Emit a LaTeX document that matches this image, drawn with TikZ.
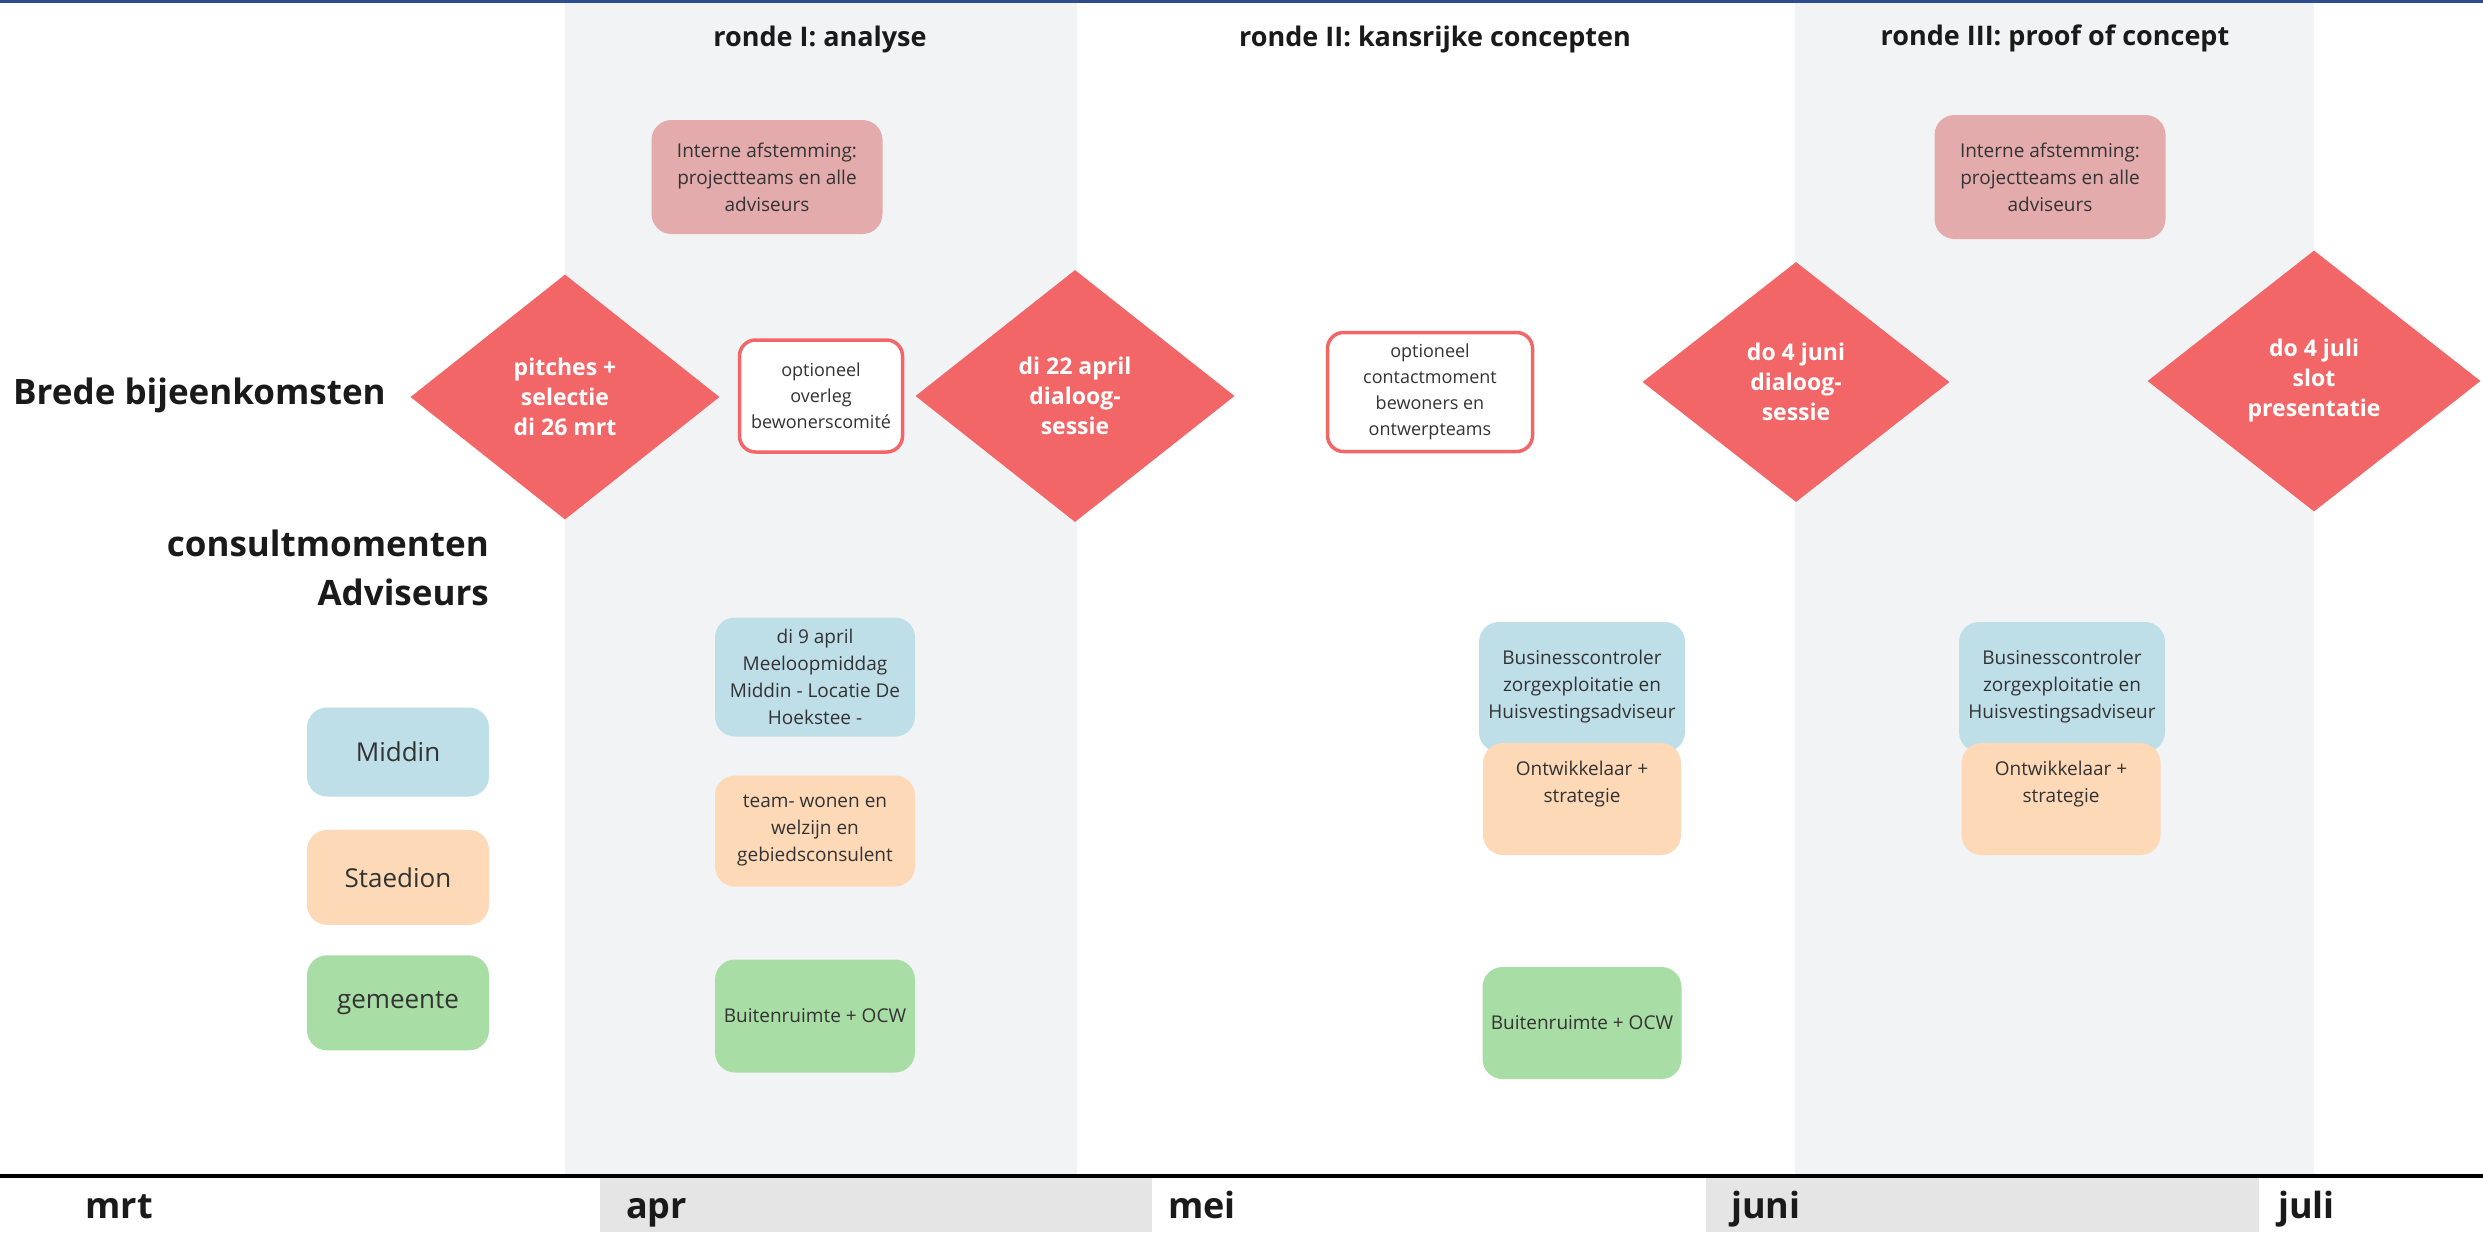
\documentclass[tikz,border=0pt]{standalone}
\usepackage{fontspec}
\setmainfont{Open Sans}
\usetikzlibrary{positioning, shapes.geometric}
\definecolor{strook}{HTML}{F2F3F5}
\definecolor{maandbalk}{HTML}{E5E5E5}
\definecolor{koraal}{HTML}{F26668}
\definecolor{oudroze}{HTML}{E3ABAB}
\definecolor{middinblauw}{HTML}{BEDEE8}
\definecolor{staedionoranje}{HTML}{FDD9B8}
\definecolor{gemeentegroen}{HTML}{A8DEA5}
\definecolor{inkt}{HTML}{333333}
\definecolor{zwart}{HTML}{1A1A1A}
\definecolor{kader}{HTML}{2E4C8E}
\tikzset{
every node/.style={text=inkt, inner sep=0pt}, % no padding, boxes get explicit sizes
blok/.style={rectangle, rounded corners=20pt, align=center, font=\fontsize{19}{27}\selectfont}, % coloured consult box
optie/.style={rectangle, rounded corners=16pt, draw=koraal, line width=3.5pt, fill=white, align=center, font=\fontsize{18}{26}\selectfont}, % optional meeting
ruit/.style={diamond, fill=koraal, text=white, align=center, font=\bfseries\fontsize{23}{30}\selectfont}, % plenary meeting
legenda/.style={blok, minimum width=182pt, font=\fontsize{26}{30}\selectfont}, % legend on the left
ronde/.style={text=zwart, font=\bfseries\fontsize{27}{32}\selectfont}, % round title
kop/.style={text=zwart, font=\bfseries\fontsize{35}{49}\selectfont}, % row heading
maand/.style={text=zwart, anchor=base west, font=\bfseries\fontsize{36}{40}\selectfont}, % month on the axis
}

\begin{document}
\begin{tikzpicture}[x=1pt, y=-1pt]
\useasboundingbox (0,0) rectangle (2483,1232);
\fill[white] (0,0) rectangle (2483,1232);
\fill[strook] (565,3) rectangle (1077,1175);
\fill[strook] (1795,3) rectangle (2314,1175);
\fill[kader] (0,0) rectangle (2483,3);
\fill[maandbalk] (600,1178) rectangle (1152,1232);
\fill[maandbalk] (1706,1178) rectangle (2259,1232);
\draw[line width=4pt, black] (0,1176) -- (2483,1176);

\node[ronde] (r1) at (820,39) {ronde I: analyse};
\node[ronde] (r2) at (1435,39) {ronde II: kansrijke concepten};
\node[ronde] (r3) at (2055,38) {ronde III: proof of concept};

\node[kop, anchor=west] (brede) at (13,395) {Brede bijeenkomsten};
\node[kop, anchor=east, align=right] (consult) at (489,568) {consultmomenten\\Adviseurs};

\node[legenda, fill=middinblauw, minimum height=89pt] (middin) at (398,752) {Middin};
\node[legenda, fill=staedionoranje, minimum height=95pt, below=33pt of middin] (staedion) {Staedion};
\node[legenda, fill=gemeentegroen, minimum height=95pt, below=30pt of staedion] (gemeente) {gemeente};

\node[blok, fill=oudroze, minimum width=231pt, minimum height=114pt] (intern1) at (767,177) {Interne afstemming:\\projectteams en alle\\adviseurs};
\node[blok, fill=oudroze, minimum width=231pt, minimum height=124pt] (intern3) at (2050,177) {Interne afstemming:\\projectteams en alle\\adviseurs};

\node[ruit, minimum width=309pt, minimum height=245pt] (pitches) at (565,397) {pitches +\\selectie\\di 26 mrt};
\node[optie, minimum width=163pt, minimum height=112pt] (overleg) at (821,396) {optioneel\\overleg\\bewonerscomité};
\node[ruit, minimum width=319pt, minimum height=252pt] (dialoog1) at (1075,396) {di 22 april\\dialoog-\\sessie};
\node[optie, minimum width=205pt, minimum height=119pt] (contact) at (1430,392) {optioneel\\contactmoment\\bewoners en\\ontwerpteams};
\node[ruit, minimum width=307pt, minimum height=240pt] (dialoog2) at (1796,382) {do 4 juni\\dialoog-\\sessie};
\node[ruit, minimum width=333pt, minimum height=261pt] (slot) at (2314,381) {do 4 juli\\slot\\presentatie};

\node[blok, fill=middinblauw, minimum width=200pt, minimum height=119pt] (meeloop) at (815,677) {di 9 april\\Meeloopmiddag\\Middin - Locatie De\\Hoekstee -};
\node[blok, fill=staedionoranje, minimum width=200pt, minimum height=111pt] (team) at (815,831) {team- wonen en\\welzijn en\\gebiedsconsulent};
\node[blok, fill=gemeentegroen, minimum width=200pt, minimum height=113pt] (buiten1) at (815,1016) {Buitenruimte + OCW};

\node[blok, fill=middinblauw, minimum width=206pt, minimum height=130pt] (business2) at (1582,687) {Businesscontroler\\zorgexploitatie en\\Huisvestingsadviseur};
\node[blok, fill=staedionoranje, minimum width=198pt, minimum height=112pt] (ontw2) at (1582,799) {Ontwikkelaar +\\strategie\\\strut};
\node[blok, fill=gemeentegroen, minimum width=199pt, minimum height=112pt] (buiten2) at (1582,1023) {Buitenruimte + OCW};

\node[blok, fill=middinblauw, minimum width=206pt, minimum height=130pt] (business3) at (2062,687) {Businesscontroler\\zorgexploitatie en\\Huisvestingsadviseur};
\node[blok, fill=staedionoranje, minimum width=199pt, minimum height=112pt] (ontw3) at (2061,799) {Ontwikkelaar +\\strategie\\\strut};

\node[maand, anchor=base] (mrt) at (119,1218) {mrt};
\node[maand] (apr) at (626,1218) {apr};
\node[maand] (mei) at (1168,1218) {mei};
\node[maand] (juni) at (1731,1218) {juni};
\node[maand] (juli) at (2278,1218) {juli};
\end{tikzpicture}
\end{document}
